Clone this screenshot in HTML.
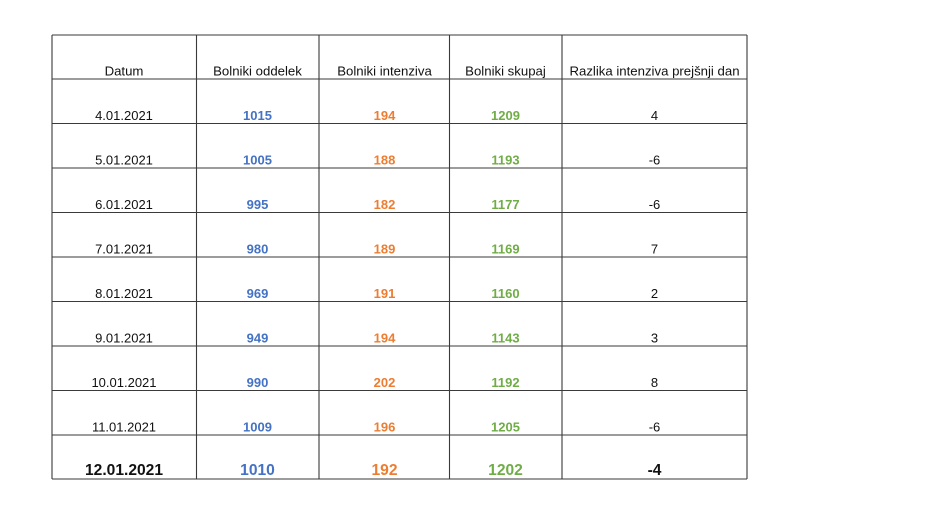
<!DOCTYPE html>
<html>
<head>
<meta charset="utf-8">
<style>
  html, body { margin:0; padding:0; background:#fff; }
  body { width:940px; height:529px; overflow:hidden; }
  svg { display:block; }
  text { font-family: "Liberation Sans", "DejaVu Sans", sans-serif; }
  .h { font-size:13.2px; fill:#111; }
  .d { font-size:13px; fill:#111; }
  .b { font-size:13px; font-weight:bold; fill:#4472C4; }
  .o { font-size:13px; font-weight:bold; fill:#ED7D31; }
  .g { font-size:13px; font-weight:bold; fill:#70AD47; }
  .big { font-size:15.6px; font-weight:bold; }
</style>
</head>
<body>
<svg width="940" height="529" viewBox="0 0 940 529" xmlns="http://www.w3.org/2000/svg">
  <rect width="940" height="529" fill="#fff"/>
  <g stroke="#3a3a3a" stroke-width="1.1" fill="none">
    <line x1="52" y1="35" x2="747" y2="35"/>
    <line x1="52" y1="79" x2="747" y2="79"/>
    <line x1="52" y1="123.5" x2="747" y2="123.5"/>
    <line x1="52" y1="168" x2="747" y2="168"/>
    <line x1="52" y1="212.5" x2="747" y2="212.5"/>
    <line x1="52" y1="257" x2="747" y2="257"/>
    <line x1="52" y1="301.5" x2="747" y2="301.5"/>
    <line x1="52" y1="346" x2="747" y2="346"/>
    <line x1="52" y1="390.5" x2="747" y2="390.5"/>
    <line x1="52" y1="435" x2="747" y2="435"/>
    <line x1="52" y1="479" x2="747" y2="479"/>
    <line x1="52" y1="35" x2="52" y2="479"/>
    <line x1="196.5" y1="35" x2="196.5" y2="479"/>
    <line x1="319" y1="35" x2="319" y2="479"/>
    <line x1="449.5" y1="35" x2="449.5" y2="479"/>
    <line x1="562" y1="35" x2="562" y2="479"/>
    <line x1="747" y1="35" x2="747" y2="479"/>
  </g>
  <g text-anchor="middle">
    <!-- header -->
    <text class="h" x="124" y="75.5">Datum</text>
    <text class="h" x="257.5" y="75.5">Bolniki oddelek</text>
    <text class="h" x="384.5" y="75.5">Bolniki intenziva</text>
    <text class="h" x="505.5" y="75.5">Bolniki skupaj</text>
    <text class="h" x="654.5" y="75.5">Razlika intenziva prejšnji dan</text>

    <!-- row 1 -->
    <text class="d" x="124" y="120">4.01.2021</text>
    <text class="b" x="257.5" y="120">1015</text>
    <text class="o" x="384.5" y="120">194</text>
    <text class="g" x="505.5" y="120">1209</text>
    <text class="d" x="654.5" y="120">4</text>

    <!-- row 2 -->
    <text class="d" x="124" y="164.5">5.01.2021</text>
    <text class="b" x="257.5" y="164.5">1005</text>
    <text class="o" x="384.5" y="164.5">188</text>
    <text class="g" x="505.5" y="164.5">1193</text>
    <text class="d" x="654.5" y="164.5">-6</text>

    <!-- row 3 -->
    <text class="d" x="124" y="209">6.01.2021</text>
    <text class="b" x="257.5" y="209">995</text>
    <text class="o" x="384.5" y="209">182</text>
    <text class="g" x="505.5" y="209">1177</text>
    <text class="d" x="654.5" y="209">-6</text>

    <!-- row 4 -->
    <text class="d" x="124" y="253.5">7.01.2021</text>
    <text class="b" x="257.5" y="253.5">980</text>
    <text class="o" x="384.5" y="253.5">189</text>
    <text class="g" x="505.5" y="253.5">1169</text>
    <text class="d" x="654.5" y="253.5">7</text>

    <!-- row 5 -->
    <text class="d" x="124" y="298">8.01.2021</text>
    <text class="b" x="257.5" y="298">969</text>
    <text class="o" x="384.5" y="298">191</text>
    <text class="g" x="505.5" y="298">1160</text>
    <text class="d" x="654.5" y="298">2</text>

    <!-- row 6 -->
    <text class="d" x="124" y="342.5">9.01.2021</text>
    <text class="b" x="257.5" y="342.5">949</text>
    <text class="o" x="384.5" y="342.5">194</text>
    <text class="g" x="505.5" y="342.5">1143</text>
    <text class="d" x="654.5" y="342.5">3</text>

    <!-- row 7 -->
    <text class="d" x="124" y="387">10.01.2021</text>
    <text class="b" x="257.5" y="387">990</text>
    <text class="o" x="384.5" y="387">202</text>
    <text class="g" x="505.5" y="387">1192</text>
    <text class="d" x="654.5" y="387">8</text>

    <!-- row 8 -->
    <text class="d" x="124" y="431.5">11.01.2021</text>
    <text class="b" x="257.5" y="431.5">1009</text>
    <text class="o" x="384.5" y="431.5">196</text>
    <text class="g" x="505.5" y="431.5">1205</text>
    <text class="d" x="654.5" y="431.5">-6</text>

    <!-- row 9 (bold, larger) -->
    <text class="big" fill="#111" x="124" y="475">12.01.2021</text>
    <text class="big" fill="#4472C4" x="257.5" y="475">1010</text>
    <text class="big" fill="#ED7D31" x="384.5" y="475">192</text>
    <text class="big" fill="#70AD47" x="505.5" y="475">1202</text>
    <text class="big" fill="#111" x="654.5" y="475">-4</text>
  </g>
</svg>
</body>
</html>
